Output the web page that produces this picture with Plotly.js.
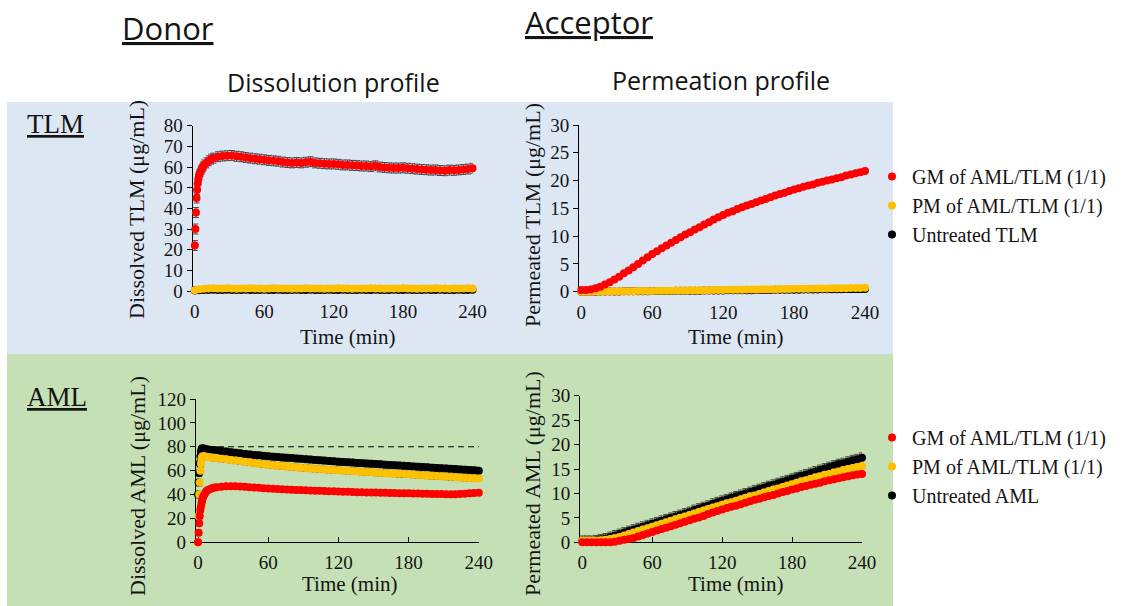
<!DOCTYPE html>
<html><head><meta charset="utf-8">
<script src="https://cdn.plot.ly/plotly-3.0.1.min.js"></script>
<style>html,body{margin:0;padding:0;background:#fff}#chart{width:1132px;height:606px}</style>
</head><body><div id="chart"></div>
<script>
// ---------- DATA ----------
const timeDonor = [0,0.5,1,1.5,2,2.5,3,3.5,4,5,6,7,8,10,12,14,16,20,24,28,32,36,40,44,48,52,56,60,64,68,72,76,80,84,88,92,96,100,104,108,112,116,120,124,128,132,136,140,144,148,152,156,160,164,168,172,176,180,184,188,192,196,200,204,208,212,216,220,224,228,232,236,240];
const timeGrid = [0,4,8,12,16,20,24,28,32,36,40,44,48,52,56,60,64,68,72,76,80,84,88,92,96,100,104,108,112,116,120,124,128,132,136,140,144,148,152,156,160,164,168,172,176,180,184,188,192,196,200,204,208,212,216,220,224,228,232,236,240];
const xTicks = [0,60,120,180,240];

// TLM - donor (dissolved, µg/mL)
const tlmDonorGM = [22,30,38,45,49,52,54,55.5,56.5,58,59,60,61,62,63,63.8,64.3,65,
 65.3,65.5,65.6,65.2,65,64.6,64.3,64,63.8,63.5,
 63.2,63,62.8,62.4,62.2,62,62.2,62,62.3,62.6,
 62,61.8,61.6,61.5,61.5,61.3,61,61,60.8,60.7,
 60.5,60.5,60.2,60.6,60,59.8,59.6,59.5,59.5,59.6,
 59.4,59.2,59,58.8,58.7,58.5,58.6,58.3,58.2,58.5,
 58.4,58.6,58.8,59,59.4];
const tlmDonorPM = [0.4,0.9,1.1,1.2,1.3,1.2,1.2,1.3,1.2,1.1,1.2,1.2,1.3,1.2,1.2,1.1,1.2,1.3,1.2,1.2,
 1.2,1.1,1.2,1.2,1.3,1.2,1.2,1.2,1.1,1.2,1.2,1.3,1.2,1.2,1.1,1.2,1.2,1.2,1.3,1.2,
 1.2,1.1,1.2,1.2,1.2,1.3,1.2,1.2,1.1,1.2,1.2,1.2,1.3,1.2,1.2,1.1,1.2,1.2,1.2,1.3,1.2];
const tlmDonorUntreated = [0.2,0.4,0.5,0.5,0.6,0.5,0.5,0.6,0.5,0.5,0.5,0.6,0.5,0.5,0.5,0.6,0.5,0.5,0.6,0.5,
 0.5,0.5,0.6,0.5,0.5,0.6,0.5,0.5,0.5,0.6,0.5,0.5,0.6,0.5,0.5,0.5,0.6,0.5,0.5,0.6,
 0.5,0.5,0.5,0.6,0.5,0.5,0.6,0.5,0.5,0.5,0.6,0.5,0.5,0.6,0.5,0.5,0.5,0.6,0.5,0.5,0.6];

// TLM - acceptor (permeated, µg/mL)
const tlmAccGM = [0.3,0.3,0.4,0.6,0.9,1.3,1.7,2.2,2.7,3.3,3.8,4.4,5.0,5.6,6.2,6.8,7.3,7.8,8.3,8.8,
 9.3,9.8,10.3,10.7,11.2,11.6,12.1,12.5,13.0,13.4,13.8,14.2,14.5,14.9,15.2,15.5,15.8,16.1,16.4,16.7,
 17.0,17.3,17.6,17.8,18.1,18.4,18.6,18.9,19.1,19.3,19.6,19.8,20.0,20.2,20.4,20.6,20.9,21.1,21.3,21.5,21.7];
const tlmAccPM = [0,0,0.01,0.02,0.03,0.04,0.05,0.06,0.07,0.08,0.09,0.1,0.11,0.12,0.13,0.14,0.15,0.17,0.18,0.19,
 0.2,0.21,0.22,0.24,0.25,0.26,0.27,0.28,0.3,0.31,0.32,0.33,0.34,0.36,0.37,0.38,0.39,0.41,0.42,0.43,
 0.44,0.46,0.47,0.48,0.49,0.51,0.52,0.53,0.54,0.56,0.57,0.58,0.59,0.61,0.62,0.63,0.64,0.66,0.67,0.68,0.7];
const tlmAccUntreated = [0,0,0,0.01,0.02,0.03,0.03,0.04,0.05,0.06,0.07,0.07,0.08,0.09,0.1,0.11,0.11,0.12,0.13,0.14,
 0.15,0.15,0.16,0.17,0.18,0.19,0.2,0.2,0.21,0.22,0.23,0.24,0.25,0.25,0.26,0.27,0.28,0.29,0.3,0.31,
 0.32,0.33,0.34,0.35,0.35,0.36,0.37,0.38,0.39,0.4,0.41,0.42,0.43,0.44,0.45,0.46,0.47,0.48,0.49,0.5,0.5];

// AML - donor (dissolved, µg/mL)
const amlDonorGM = [0,8,16,22,27,30,33,35,37,39.5,41,42.5,43.5,44.5,45.3,45.8,46.2,46.6,
 46.9,47,47,46.8,46.5,46.2,45.9,45.6,45.3,45,
 44.8,44.6,44.4,44.2,44,43.8,43.7,43.5,43.4,43.2,
 43.1,43,42.8,42.7,42.5,42.4,42.3,42.2,42,41.9,
 41.8,41.7,41.6,41.5,41.4,41.3,41.2,41.1,41,41,
 40.9,40.8,40.7,40.6,40.5,40.4,40.4,40.3,40.2,40.2,
 40.5,40.7,41,41.3,41.5];
const amlDonorPM = [0,22,40,50,60,66,70,71.5,72,72,71.8,71.6,71.4,71.2,71,70.8,70.5,70,
 69.5,69,68.5,68,67.5,67,66.5,66,65.5,65,
 64.6,64.2,63.8,63.5,63.2,62.8,62.5,62.2,61.9,61.6,
 61.3,61,60.8,60.6,60.4,60.1,59.9,59.6,59.4,59.1,
 58.9,58.6,58.4,58.1,57.9,57.7,57.5,57.3,57.1,57,
 56.7,56.4,56.2,55.9,55.7,55.5,55.2,55,54.8,54.5,
 54.3,54.1,53.9,53.7,53.5];
const amlDonorUntreated = [40,50,58,66,72,76,78,78.5,78.5,78,78,77.8,77.6,77.4,77.2,77,76.8,76.5,
 76,75.5,75,74.5,74,73.6,73.2,72.8,72.4,72,
 71.7,71.4,71.1,70.8,70.5,70.2,69.9,69.6,69.3,69,
 68.7,68.4,68.1,67.8,67.5,67.3,67,66.8,66.5,66.3,
 66,65.8,65.5,65.3,65,64.8,64.5,64.3,64,63.8,
 63.5,63.3,63,62.8,62.5,62.3,62,61.8,61.5,61.3,
 61,60.8,60.5,60.3,60];
const amlDonorRefX = [0,243];
const amlDonorRefY = [80,80];

// AML - acceptor (permeated, µg/mL)
const amlAccGM = [0,0,0,0,0,0,0,0.1,0.3,0.5,0.7,0.9,1.2,1.5,1.8,2.1,2.4,2.7,3.0,3.3,
 3.6,3.9,4.2,4.5,4.8,5.1,5.4,5.8,6.1,6.4,6.7,7.0,7.3,7.5,7.8,8.1,8.4,8.7,8.9,9.2,
 9.5,9.7,10.0,10.3,10.5,10.8,11.0,11.3,11.5,11.8,12.0,12.2,12.5,12.7,12.9,13.1,13.3,13.5,13.7,13.9,14.0];
const amlAccPM = [0.3,0.3,0.3,0.3,0.4,0.5,0.7,0.9,1.1,1.4,1.7,2.0,2.3,2.6,2.9,3.2,3.5,3.8,4.1,4.4,
 4.7,5.0,5.3,5.6,5.9,6.2,6.5,6.8,7.1,7.4,7.7,8.0,8.2,8.5,8.8,9.1,9.4,9.6,9.9,10.2,
 10.5,10.8,11.0,11.3,11.6,11.9,12.2,12.5,12.7,13.0,13.3,13.5,13.8,14.0,14.3,14.5,14.8,15.0,15.2,15.4,15.6];
const amlAccUntreated = [0.3,0.3,0.3,0.4,0.6,0.8,1.1,1.4,1.7,2.0,2.3,2.6,2.9,3.2,3.5,3.8,4.1,4.4,4.7,5.0,
 5.3,5.6,5.9,6.2,6.6,6.9,7.2,7.5,7.9,8.2,8.5,8.8,9.1,9.4,9.7,10.0,10.3,10.6,10.9,11.2,
 11.5,11.8,12.1,12.4,12.7,13.0,13.3,13.6,13.9,14.2,14.5,14.8,15.1,15.4,15.7,16.0,16.2,16.5,16.8,17.0,17.3];

// standard deviations (error bars)
const sdTlmDonor = [2.4, 0.8, 0.6];   // GM, PM, untreated
const sdTlmAcc   = [0.3, 0.2, 0.2];
const sdAmlDonor = [2.2, 2.6, 2.8];
const sdAmlAcc   = [0.5, 0.7, 1.0];

const seriesNames = ['GM of AML/TLM (1/1)', 'PM of AML/TLM (1/1)'];
const untreatedNames = ['Untreated TLM', 'Untreated AML'];

// ---------- STYLE / LAYOUT ----------
const W = 1132, H = 606;
const px = v => v / W, py = v => 1 - v / H;
const SERIF = 'Liberation Serif, Times New Roman, serif';
const SANS = 'Open Sans, Liberation Sans, sans-serif';
const TXT = '#141414';
const colGM = '#ff0000', colPM = '#ffc000', colUn = '#000000';

function series(x, y, sd, color, name, xa, ya, legendId, rank) {
  return {
    type: 'scatter', mode: 'markers', x: x, y: y, name: name,
    xaxis: xa, yaxis: ya, cliponaxis: false,
    legend: legendId || 'legend', showlegend: !!legendId, legendrank: rank,
    marker: {color: color, size: 8, line: {width: 0}},
    error_y: {type: 'constant', value: sd, color: 'rgba(60,60,60,0.9)', thickness: 1, width: 3}
  };
}

const traces = [
  // top-left: TLM donor
  series(timeGrid, tlmDonorUntreated, sdTlmDonor[2], colUn, untreatedNames[0], 'x', 'y'),
  series(timeGrid, tlmDonorPM, sdTlmDonor[1], colPM, seriesNames[1], 'x', 'y'),
  series(timeDonor, tlmDonorGM, sdTlmDonor[0], colGM, seriesNames[0], 'x', 'y'),
  // top-right: TLM acceptor
  series(timeGrid, tlmAccUntreated, sdTlmAcc[2], colUn, untreatedNames[0], 'x2', 'y2', 'legend', 3),
  series(timeGrid, tlmAccPM, sdTlmAcc[1], colPM, seriesNames[1], 'x2', 'y2', 'legend', 2),
  series(timeGrid, tlmAccGM, sdTlmAcc[0], colGM, seriesNames[0], 'x2', 'y2', 'legend', 1),
  // bottom-left: AML donor
  {type: 'scatter', mode: 'lines', x: amlDonorRefX, y: amlDonorRefY, xaxis: 'x3', yaxis: 'y3',
   showlegend: false, line: {color: '#000', width: 1, dash: '6px,4px'}, cliponaxis: false},
  series(timeDonor, amlDonorUntreated, sdAmlDonor[2], colUn, untreatedNames[1], 'x3', 'y3'),
  series(timeDonor, amlDonorPM, sdAmlDonor[1], colPM, seriesNames[1], 'x3', 'y3'),
  series(timeDonor, amlDonorGM, sdAmlDonor[0], colGM, seriesNames[0], 'x3', 'y3'),
  // bottom-right: AML acceptor
  series(timeGrid, amlAccUntreated, sdAmlAcc[2], colUn, untreatedNames[1], 'x4', 'y4', 'legend2', 3),
  series(timeGrid, amlAccPM, sdAmlAcc[1], colPM, seriesNames[1], 'x4', 'y4', 'legend2', 2),
  series(timeGrid, amlAccGM, sdAmlAcc[0], colGM, seriesNames[0], 'x4', 'y4', 'legend2', 1)
];

function xAxis(l, r, anchor) {
  return {domain: [px(l), px(r)], range: [-2, 240], anchor: anchor, tickvals: xTicks,
    ticks: 'inside', ticklen: 5, tickcolor: '#000', showline: true, linecolor: '#000', linewidth: 1,
    showgrid: false, zeroline: false, layer: 'below traces', ticklabelstandoff: 3,
    tickfont: {family: SERIF, size: 19, color: TXT}, fixedrange: true};
}
function yAxis(t, b, range, dtick, anchor) {
  return {domain: [py(b), py(t)], range: range, dtick: dtick, anchor: anchor,
    ticks: 'outside', ticklen: 5, tickcolor: '#000', showline: true, linecolor: '#000', linewidth: 1,
    showgrid: false, zeroline: false, layer: 'below traces',
    tickfont: {family: SERIF, size: 19, color: TXT}, fixedrange: true};
}

function ann(text, x, y, size, family, extra) {
  return Object.assign({text: text, x: px(x), y: py(y), xref: 'paper', yref: 'paper', showarrow: false,
    xanchor: 'center', yanchor: 'middle', font: {family: family, size: size, color: TXT}}, extra || {});
}

const layout = {
  width: W, height: H, margin: {l: 0, r: 0, t: 0, b: 0},
  paper_bgcolor: '#ffffff', plot_bgcolor: 'rgba(0,0,0,0)',
  xaxis: xAxis(192.5, 472.5, 'y'),
  yaxis: yAxis(125.7, 291, [0, 80], 10, 'x'),
  xaxis2: xAxis(579, 865, 'y2'),
  yaxis2: yAxis(125, 291.7, [0, 30], 5, 'x2'),
  xaxis3: xAxis(195.7, 478.8, 'y3'),
  yaxis3: yAxis(399, 542.3, [0, 120], 20, 'x3'),
  xaxis4: xAxis(580, 862, 'y4'),
  yaxis4: yAxis(395.7, 542.3, [0, 30], 5, 'x4'),
  shapes: [
    {type: 'rect', xref: 'paper', yref: 'paper', x0: px(7), x1: px(893), y0: py(354), y1: py(102),
     fillcolor: '#dde7f3', line: {width: 0}, layer: 'below'},
    {type: 'rect', xref: 'paper', yref: 'paper', x0: px(7), x1: px(893), y0: py(606), y1: py(354),
     fillcolor: '#c5e0b4', line: {width: 0}, layer: 'below'}
  ],
  annotations: [
    ann('<u>Donor</u>', 168, 28, 31, SANS),
    ann('<u>Acceptor</u>', 589, 22, 31, SANS),
    ann('Dissolution profile', 333, 82, 25, SANS),
    ann('Permeation profile', 721, 80, 25, SANS),
    ann('<u>TLM</u>', 25, 124, 27, SERIF, {xanchor: 'left'}),
    ann('<u>AML</u>', 25, 397, 27, SERIF, {xanchor: 'left'}),
    ann('Time (min)', 347, 337, 21, SERIF),
    ann('Time (min)', 735, 337, 21, SERIF),
    ann('Time (min)', 349, 584, 21, SERIF),
    ann('Time (min)', 735, 584, 21, SERIF),
    ann('Dissolved TLM (μg/mL)', 137, 210, 22, SERIF, {textangle: -90}),
    ann('Permeated TLM (μg/mL)', 532, 215, 22, SERIF, {textangle: -90}),
    ann('Dissolved AML (μg/mL)', 137, 486, 22, SERIF, {textangle: -90}),
    ann('Permeated AML (μg/mL)', 532, 484, 22, SERIF, {textangle: -90})
  ],
  legend: {x: px(872), y: py(157), xanchor: 'left', yanchor: 'top', bgcolor: 'rgba(0,0,0,0)',
    font: {family: SERIF, size: 20, color: TXT}, itemwidth: 30, tracegroupgap: 0},
  legend2: {x: px(872), y: py(418), xanchor: 'left', yanchor: 'top', bgcolor: 'rgba(0,0,0,0)',
    font: {family: SERIF, size: 20, color: TXT}, itemwidth: 30, tracegroupgap: 0}
};

Plotly.newPlot('chart', traces, layout, {displayModeBar: false, staticPlot: true});
</script>
</body></html>
